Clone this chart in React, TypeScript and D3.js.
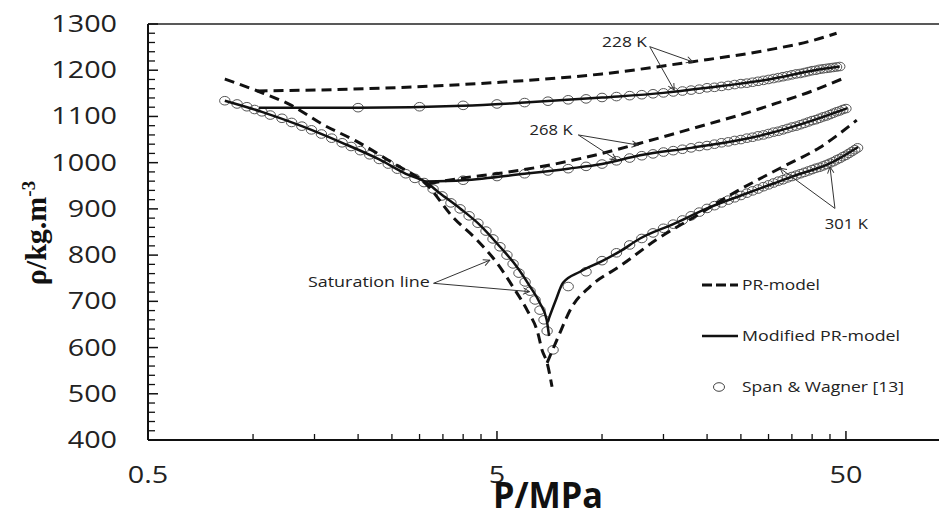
import * as d3 from 'd3';

type Pt = [number, number]; // [P in MPa, density in kg/m3]

// PR-model (dashed)
const prSaturation: Pt[] = [
  [0.83, 1181], [1.03, 1155], [1.28, 1125], [1.59, 1082], [1.97, 1047], [2.52, 999],
  [3.15, 952], [3.74, 882], [4.38, 833], [5.0, 783], [5.56, 731], [6.1, 681],
  [6.55, 631], [6.73, 595], [6.96, 567], [7.19, 515],
];
const pr228: Pt[] = [
  [1.03, 1155], [2.3, 1161], [5.1, 1174], [10, 1192], [18, 1218], [30, 1244], [40, 1264], [47, 1280],
];
const pr268: Pt[] = [
  [3.2, 955], [4, 967], [5.1, 977], [8, 1003], [10, 1020], [12.85, 1042], [16, 1062],
  [20, 1083], [24.8, 1103], [32, 1130], [40, 1155], [49, 1182],
];
const pr301: Pt[] = [
  [6.96, 567], [7.42, 616], [8.2, 688], [9.24, 732], [11.25, 776], [14.3, 833], [19.1, 890],
  [23.3, 930], [32.35, 988], [42.1, 1033], [53.7, 1092],
];

// Modified PR-model (solid)
const modSaturation: Pt[] = [
  [0.83, 1134], [1.06, 1110], [1.38, 1079], [1.8, 1043], [2.3, 1007], [2.74, 976],
  [3.11, 959], [3.43, 934], [3.92, 901], [4.47, 865], [5.1, 818], [5.7, 775],
  [6.22, 732], [6.64, 696], [6.94, 660], [7.05, 625],
];
const mod228: Pt[] = [
  [1.04, 1119], [2, 1119], [4, 1123], [6, 1130], [10, 1141], [15, 1151], [20, 1162],
  [30, 1180], [40, 1199], [48, 1208],
];
const mod268: Pt[] = [
  [3.11, 959], [4, 962], [6, 976], [8, 987], [10, 997], [12.85, 1016], [18, 1032],
  [24.8, 1049], [30, 1063], [40, 1091], [50.5, 1118],
];
const mod301: Pt[] = [
  [6.98, 655], [7.35, 700], [7.73, 740], [8.65, 764], [10, 787], [11.25, 808], [12.85, 836],
  [16, 867], [20, 901], [25, 929], [31, 955], [37, 976], [44, 995], [54.2, 1034],
];

// Span & Wagner [13] (open circles)
const swSaturation: Pt[] = [
  [0.83, 1134], [0.9, 1127], [0.96, 1121], [1.01, 1115], [1.06, 1110], [1.12, 1103],
  [1.21, 1096], [1.29, 1087], [1.38, 1079], [1.47, 1071], [1.57, 1062], [1.68, 1053],
  [1.8, 1043], [1.91, 1035], [2.03, 1026], [2.16, 1017], [2.3, 1007], [2.44, 997],
  [2.59, 986], [2.74, 976], [2.91, 966], [3.09, 957], [3.28, 943], [3.48, 928],
  [3.69, 913], [3.92, 900], [4.16, 885], [4.41, 869], [4.65, 852], [4.87, 835],
  [5.1, 818], [5.34, 800], [5.56, 781], [5.78, 761], [6.02, 742], [6.22, 722],
  [6.43, 703], [6.64, 681], [6.82, 660], [6.96, 636], [7.24, 595],
];
const sw228: Pt[] = [
  [2, 1119], [3, 1121], [4, 1124], [5, 1127], [6, 1130], [7, 1133], [8, 1136], [9, 1138],
  [10, 1141], [11, 1143], [12, 1145], [13, 1147], [14, 1149], [15, 1151], [16, 1153],
  [17, 1155], [18, 1157], [19, 1159], [20, 1162], [21, 1163], [22, 1165], [23, 1167],
  [24, 1169], [25, 1171], [26, 1172], [27, 1174], [28, 1176], [29, 1178], [30, 1180],
  [31, 1182], [32, 1184], [33, 1186], [34, 1188], [35, 1190], [36, 1192], [37, 1193],
  [38, 1195], [39, 1197], [40, 1199], [41, 1200], [42, 1202], [43, 1203], [44, 1204],
  [45, 1205], [46, 1206], [47, 1207], [48, 1208],
];
const sw268: Pt[] = [
  [4, 962], [5, 970], [6, 976], [7, 982], [8, 987], [9, 992], [10, 997], [11, 1004],
  [12, 1010], [13, 1015], [14, 1019], [15, 1023], [16, 1026], [17, 1029], [18, 1032],
  [19, 1035], [20, 1037], [21, 1040], [22, 1043], [23, 1045], [24, 1048], [25, 1050],
  [26, 1053], [27, 1055], [28, 1058], [29, 1060], [30, 1063], [31, 1066], [32, 1068],
  [33, 1071], [34, 1074], [35, 1077], [36, 1079], [37, 1082], [38, 1085], [39, 1088],
  [40, 1091], [41, 1093], [42, 1096], [43, 1099], [44, 1101], [45, 1104], [46, 1107],
  [47, 1110], [48, 1112], [49, 1115], [50, 1117],
];
const sw301: Pt[] = [
  [8, 732], [9, 764], [10, 788], [11, 805], [12, 822], [13, 836], [14, 848], [15, 858],
  [16, 867], [17, 876], [18, 885], [19, 893], [20, 901], [21, 907], [22, 913], [23, 919],
  [24, 924], [25, 929], [26, 934], [27, 939], [28, 943], [29, 948], [30, 952], [31, 956],
  [32, 960], [33, 963], [34, 967], [35, 970], [36, 973], [37, 976], [38, 979], [39, 982],
  [40, 985], [41, 988], [42, 990], [43, 993], [44, 996], [45, 999], [46, 1002], [47, 1006],
  [48, 1009], [49, 1013], [50, 1016], [51, 1020], [52, 1024], [53, 1028], [54, 1032],
];

// axes
const xMajorTicks = [0.5, 5, 50];
const xTickLabels = ['0.5', '5', '50'];
const yMajorTicks = [400, 500, 600, 700, 800, 900, 1000, 1100, 1200, 1300];

// annotations: label anchor, arrow origin and arrow tips, in data units
const annotations = [
  { text: '228 K', at: [10.0, 1250], from: [13.7, 1251], tips: [[18.2, 1218], [16.1, 1157]] },
  { text: '268 K', at: [6.2, 1060], from: [8.55, 1060], tips: [[12.7, 1038], [11.0, 1006]] },
  { text: '301 K', at: [43.5, 857], from: [46.5, 901], tips: [[32.35, 988], [45, 991]] },
  { text: 'Saturation line', at: [1.436, 731], from: [3.29, 739], tips: [[4.77, 789], [6.2, 721]] },
];

const W = 939;
const H = 510;
const FONT = "'Open Sans', 'DejaVu Sans', sans-serif";
// the source picture is stretched horizontally; tick text is widened to match
const STRETCH = 1.25;
// measured widths of the smaller labels in the reference
const textWidths: Record<string, number> = {
  '228 K': 45,
  '268 K': 43,
  '301 K': 43,
  'Saturation line': 122,
  'PR-model': 78,
  'Modified PR-model': 158,
  'Span & Wagner [13]': 162,
};

const x = d3.scaleLog().domain([0.5, 100]).range([148, 951]);
const y = d3.scaleLinear().domain([400, 1300]).range([440, 24]);

const line = d3
  .line<Pt>()
  .x((d) => x(d[0]))
  .y((d) => y(d[1]))
  .curve(d3.curveMonotoneX);

function TickText({
  x,
  y,
  anchor,
  children,
}: {
  x: number;
  y: number;
  anchor: 'middle' | 'end';
  children: React.ReactNode;
}) {
  return (
    <text
      transform={`translate(${x},${y}) scale(${STRETCH},1)`}
      textAnchor={anchor}
      fontFamily={FONT}
      fontSize={23}
      fill="#222"
    >
      {children}
    </text>
  );
}

function Label({ x, y, text }: { x: number; y: number; text: string }) {
  return (
    <text
      x={x}
      y={y}
      fontFamily={FONT}
      fontSize={15}
      fill="#222"
      textLength={textWidths[text]}
      lengthAdjust="spacingAndGlyphs"
    >
      {text}
    </text>
  );
}

export default function App() {
  const [x0] = x.range();
  const [y0, y1] = y.range();

  const xMinor: number[] = [];
  xMajorTicks.forEach((base) => {
    for (let k = 2; k <= 9; k++) xMinor.push(base * k);
  });
  const yMinor = d3.range(400, 1300, 20).filter((v) => v % 100 !== 0);

  const dashed = [prSaturation, pr228, pr268, pr301];
  const solid = [modSaturation, mod228, mod268, mod301];
  const circles = [...swSaturation, ...sw228, ...sw268, ...sw301];

  return (
    <div style={{ position: 'absolute', left: 0, top: 0 }}>
      <svg width={W} height={H} style={{ display: 'block', background: '#fff' }}>
        <defs>
          <marker
            id="arrowhead"
            viewBox="0 0 10 10"
            refX="9"
            refY="5"
            markerWidth="8"
            markerHeight="8"
            orient="auto"
          >
            <path d="M1,1 L9,5 L1,9" fill="none" stroke="#333" strokeWidth={1.2} />
          </marker>
        </defs>

        {/* frame */}
        <line x1={x0} x2={W} y1={y1} y2={y1} stroke="#222" strokeWidth={1.5} />
        <line x1={x0} x2={W} y1={y0} y2={y0} stroke="#111" strokeWidth={2} />
        <line x1={x0} x2={x0} y1={y1} y2={y0} stroke="#111" strokeWidth={2} />

        {/* y ticks */}
        {yMajorTicks.map((v) => (
          <line key={'ym' + v} x1={x0} x2={x0 + 10} y1={y(v)} y2={y(v)} stroke="#111" strokeWidth={1.5} />
        ))}
        {yMinor.map((v) => (
          <line key={'yn' + v} x1={x0} x2={x0 + 7} y1={y(v)} y2={y(v)} stroke="#111" strokeWidth={1.3} />
        ))}
        {yMajorTicks.map((v) => (
          <TickText key={'yl' + v} x={117} y={y(v) + 8} anchor="end">
            {v}
          </TickText>
        ))}

        {/* x ticks */}
        {xMajorTicks.map((v) => (
          <line key={'xm' + v} x1={x(v)} x2={x(v)} y1={y0} y2={y0 - 9} stroke="#111" strokeWidth={1.5} />
        ))}
        {xMinor.map((v) => (
          <line key={'xn' + v} x1={x(v)} x2={x(v)} y1={y0} y2={y0 - 6} stroke="#111" strokeWidth={1.3} />
        ))}
        {xMajorTicks.map((v, i) => (
          <TickText key={'xl' + v} x={x(v)} y={483} anchor="middle">
            {xTickLabels[i]}
          </TickText>
        ))}

        {/* axis titles */}
        <text
          x={493}
          y={508}
          fontFamily={FONT}
          fontWeight="bold"
          fontSize={35}
          fill="#111"
          textLength={110}
          lengthAdjust="spacingAndGlyphs"
        >
          P/MPa
        </text>
        <text
          transform="translate(46,233) rotate(-90)"
          textAnchor="middle"
          fontFamily="'Liberation Serif', 'Times New Roman', serif"
          fontWeight="bold"
          fontSize={30}
          fill="#111"
        >
          ρ/kg.m
          <tspan fontSize={19} dy={-11}>-3</tspan>
        </text>

        {/* Span & Wagner circles */}
        {circles.map((d, i) => (
          <ellipse
            key={'c' + i}
            cx={x(d[0])}
            cy={y(d[1])}
            rx={5.2}
            ry={4.3}
            fill="none"
            stroke="#555"
            strokeWidth={1}
          />
        ))}

        {/* Modified PR-model */}
        {solid.map((s, i) => (
          <path key={'s' + i} d={line(s) ?? ''} fill="none" stroke="#111" strokeWidth={2.5} />
        ))}

        {/* PR-model */}
        {dashed.map((s, i) => (
          <path
            key={'d' + i}
            d={line(s) ?? ''}
            fill="none"
            stroke="#111"
            strokeWidth={3}
            strokeDasharray="10,6"
          />
        ))}

        {/* annotations */}
        {annotations.map((a) => (
          <g key={a.text}>
            {a.tips.map((t, j) => (
              <line
                key={j}
                x1={x(a.from[0])}
                y1={y(a.from[1])}
                x2={x(t[0])}
                y2={y(t[1])}
                stroke="#333"
                strokeWidth={1}
                markerEnd="url(#arrowhead)"
              />
            ))}
            <Label x={x(a.at[0])} y={y(a.at[1])} text={a.text} />
          </g>
        ))}

        {/* legend */}
        <line x1={702} x2={738} y1={285} y2={285} stroke="#111" strokeWidth={3} strokeDasharray="10,4" />
        <Label x={742} y={290} text="PR-model" />
        <line x1={702} x2={738} y1={336} y2={336} stroke="#111" strokeWidth={2.5} />
        <Label x={742} y={341} text="Modified PR-model" />
        <ellipse cx={719} cy={387} rx={5.5} ry={4.3} fill="none" stroke="#444" strokeWidth={1} />
        <Label x={742} y={392} text="Span & Wagner [13]" />
      </svg>
    </div>
  );
}
